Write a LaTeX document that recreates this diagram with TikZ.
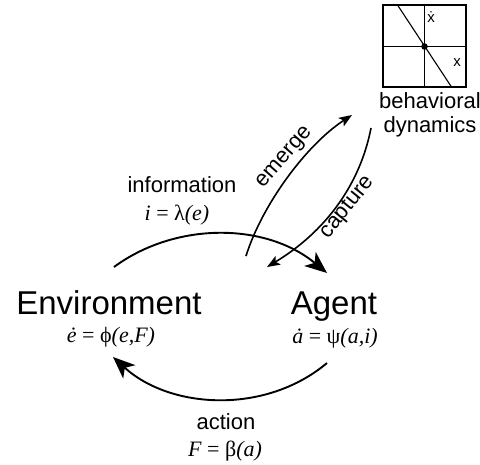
\documentclass[tikz,border=0pt]{standalone}
\usepackage{fontspec}
\setmainfont{Liberation Sans}
\newfontfamily\tms{Liberation Serif}
\usetikzlibrary{arrows.meta}
\begin{document}
\begin{tikzpicture}[x=1pt,y=-1pt,
  lbl/.style={font=\fontsize{22}{24}\selectfont, inner sep=0pt, anchor=base},
  big/.style={font=\fontsize{33}{38}\selectfont, inner sep=0pt, anchor=base},
  eq/.style={font=\fontsize{22}{24}\selectfont\tms, inner sep=0pt, anchor=base},
  small/.style={font=\fontsize{15}{16}\selectfont, inner sep=0pt},
  tilted/.style={font=\fontsize{22}{24}\selectfont, inner sep=0pt},
  flow/.style={line width=1.9pt, -{Stealth[length=22pt,width=18pt,inset=6pt]}},
  link/.style={line width=1.6pt, -{Stealth[length=13pt,width=10pt,inset=3pt]}},
  axisline/.style={line width=1.1pt},
  ]
\useasboundingbox (0,0) rectangle (480,464);

% phase plot
\draw[axisline] (383,5) rectangle (466,87);
\draw[axisline] (424.5,5) -- (424.5,87);
\draw[axisline] (383,46.5) -- (466,46.5);
\draw[axisline] (397.5,5) -- (451.5,87);
\fill (424.5,46.5) circle (3.3pt);
\node[small] (xdot) at (431,17) {\.{x}};
\node[small] (xx) at (457,63) {x};
\node[font=\fontsize{22}{24}\selectfont, inner sep=0pt, align=center] (beh) at (430,115) {behavioral\\dynamics};

% main labels
\node[big] (env) at (109,314) {Environment};
\node[big] (agent) at (334,314) {Agent};
\node[eq] (envEq) at (111,342) {\textit{\.{e}} = ϕ\textit{(e,F)}};
\node[eq] (agentEq) at (335,343) {\textit{\.{a}} = ψ\textit{(a,i)}};
\node[lbl] (info) at (182,192) {information};
\node[eq] (infoEq) at (177,220) {\textit{i} = λ\textit{(e)}};
\node[lbl] (action) at (226,429) {action};
\node[eq] (actionEq) at (225,456) {\textit{F} = β\textit{(a)}};
\node[tilted, rotate=49] (emergeL) at (285,158) {emerge};
\node[tilted, rotate=51] (captureL) at (347.5,207.5) {capture};

% connector ends
\coordinate (iS) at (114,267);
\coordinate (iE) at (327,273);
\coordinate (aS) at (327,363);
\coordinate (aE) at (113,357);
\coordinate (eS) at (246,256);
\coordinate (eE) at (352,115);
\coordinate (cS) at (371,128);
\coordinate (cE) at (267,267);

\draw[flow] (iS) .. controls (175,222) and (265,222) .. (iE);
\draw[flow] (aS) .. controls (265,415) and (170,409) .. (aE);
\draw[link] (eS) .. controls (262,205) and (306,145) .. (eE);
\draw[link] (cS) .. controls (360,185) and (325,232) .. (cE);
\end{tikzpicture}
\end{document}
